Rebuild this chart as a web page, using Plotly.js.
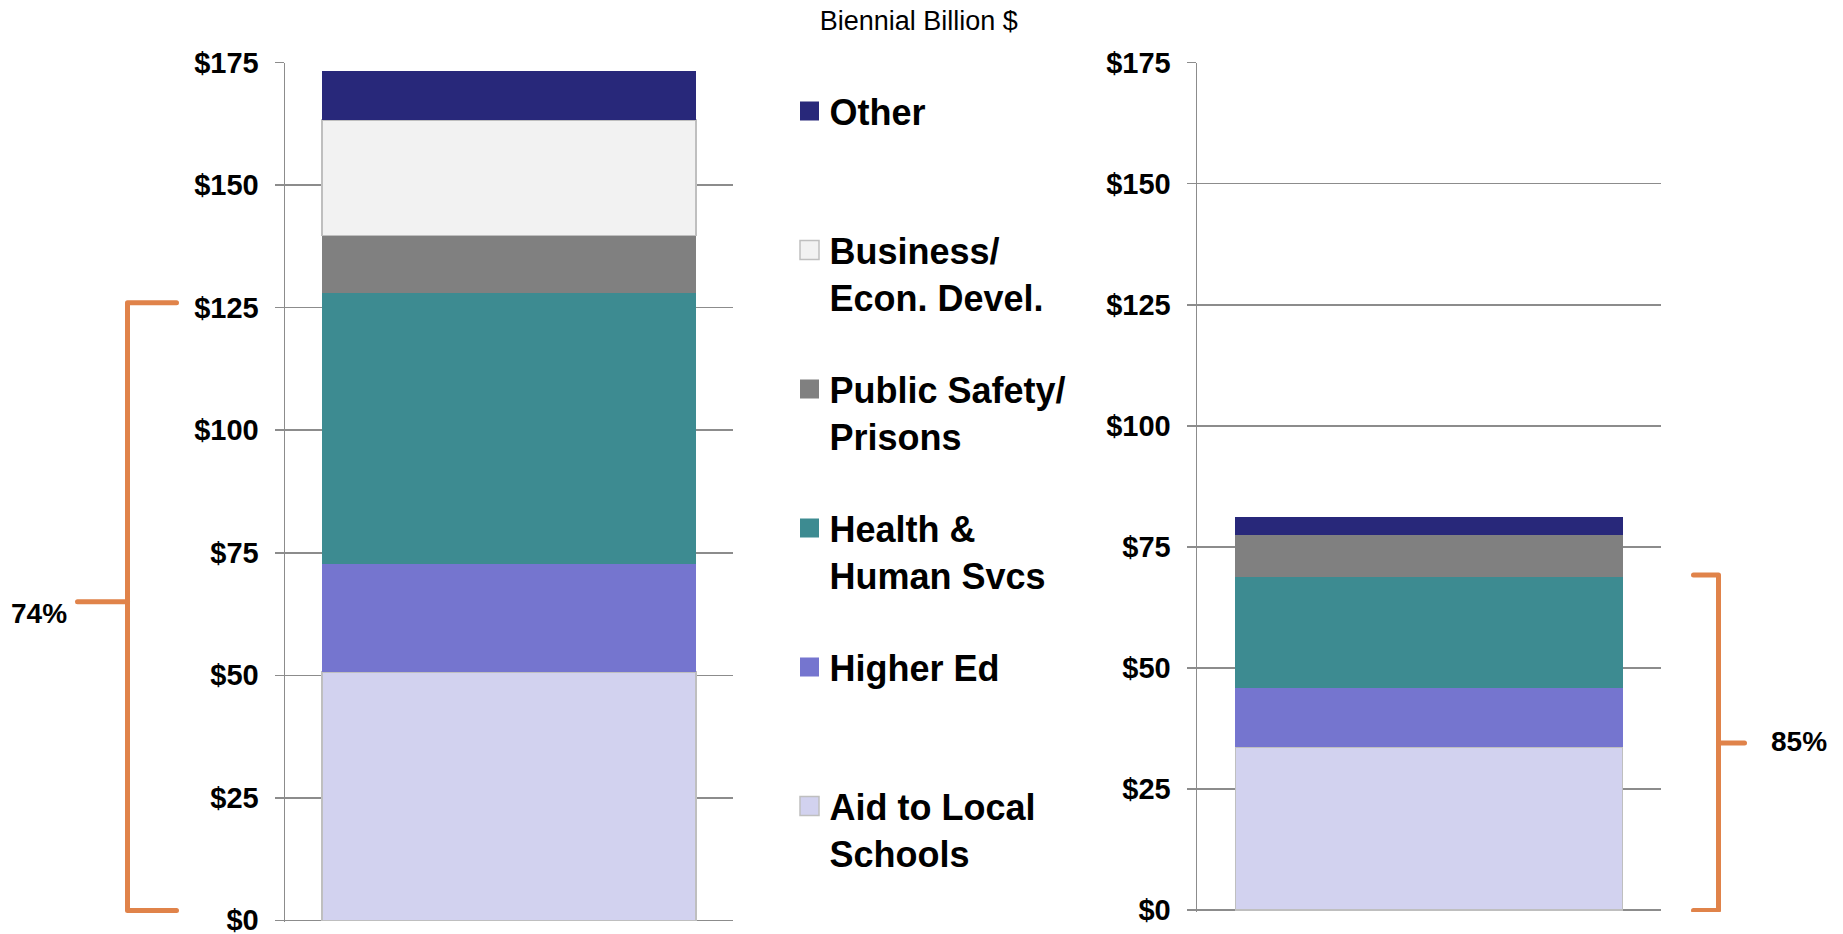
<!DOCTYPE html>
<html>
<head>
<meta charset="utf-8">
<script src="https://cdn.plot.ly/plotly-3.0.1.min.js"></script>
<style>
  html, body { margin: 0; padding: 0; background: #ffffff; }
  #chart { width: 1843px; height: 934px; }
</style>
</head>
<body>
<div id="chart"></div>
<script>
// ---------------- data ----------------
const categories = ['Aid to Local Schools', 'Higher Ed', 'Health & Human Svcs', 'Public Safety/ Prisons', 'Business/ Econ. Devel.', 'Other'];
const legendLabels = ['Aid to Local<br>Schools', 'Higher Ed<br> ', 'Health &amp;<br>Human Svcs', 'Public Safety/<br>Prisons', 'Business/<br>Econ. Devel.', 'Other<br> '];
const leftValues  = [50.7, 22.1, 55.3, 11.6, 23.6, 10.0];   // biennial billion $, left bar
const rightValues = [33.7, 12.1, 23.0,  8.6,  0.0,  3.8];   // biennial billion $, right bar
const leftCategory  = ['All Funds'];
const rightCategory = ['General Fund'];
const tickValues = [0, 25, 50, 75, 100, 125, 150, 175];
const tickLabels = ['$0', '$25', '$50', '$75', '$100', '$125', '$150', '$175'];
const shareLabels = ['74%', '85%'];

// ---------------- styles ----------------
const colors = ['#D2D2EF', '#7575CF', '#3D8B91', '#808080', '#F2F2F2', '#28287A'];
const borderWidths = [1.5, 0, 0, 0, 1.5, 0];
const borderColor = '#BFBFBF';
const gridColor = '#8C8C8C';
const bracketColor = '#E0834A';
const FONT = '"Liberation Sans", Arial, Helvetica, sans-serif';

const W = 1843, H = 934;
const px = x => x / W;
const py = y => 1 - y / H;

const traces = [];
categories.forEach((c, i) => {
  const rank = categories.length - i;
  traces.push({
    type: 'bar', name: legendLabels[i], legendgroup: c, legendrank: rank,
    x: leftCategory, y: [leftValues[i]], xaxis: 'x', yaxis: 'y',
    marker: { color: colors[i], line: { color: borderColor, width: borderWidths[i] } },
    showlegend: true, hoverinfo: 'skip'
  });
  traces.push({
    type: 'bar', name: legendLabels[i], legendgroup: c, legendrank: rank,
    x: rightCategory, y: [rightValues[i]], xaxis: 'x2', yaxis: 'y2',
    marker: { color: colors[i], line: { color: borderColor, width: rightValues[i] > 0 ? borderWidths[i] : 0 } },
    showlegend: false, hoverinfo: 'skip'
  });
});

const Y_MIN = -0.4, Y_MAX = 175;
const yAxisBase = {
  range: [Y_MIN, Y_MAX], tickvals: tickValues, ticktext: tickLabels,
  showgrid: true, gridcolor: gridColor, gridwidth: 1.5,
  showline: true, linecolor: gridColor, linewidth: 1.5,
  ticks: 'outside', ticklen: 9, tickwidth: 1.5, tickcolor: gridColor,
  ticklabelstandoff: 10, ticklabeloverflow: 'allow',
  zeroline: false, automargin: false, fixedrange: true,
  tickfont: { family: FONT, size: 29, weight: 700, color: '#000000' }
};
const xAxisBase = {
  range: [-0.5, 0.5], showticklabels: false, showgrid: false, zeroline: false,
  showline: false, ticks: '', automargin: false, fixedrange: true, type: 'category'
};

// pixel rows of $0 and $175 for each panel
const leftZero = 920.3, rightZero = 910, topRow = 62.7;
const domainFor = zero => {
  const ppu = (zero - topRow) / Y_MAX;
  return [py(zero - Y_MIN * ppu), py(topRow)];
};

// bracket geometry (annotation decorations)
const leftBracket  = { xv: 127.5, xend: 176.5, xmid: 77.5, top: 126, bottom: 2, mid: 65 };
const rightBracket = { xv: 1718.5, xend: 1693.5, xmid: 1744.5, top: 69.2, bottom: -0.1, mid: 34.5 };

function bracketShapes(b, yref) {
  const line = { color: bracketColor, width: 5 };
  return [
    { type: 'path', xref: 'paper', yref: yref, line: line,
      path: `M ${px(b.xend)},${b.top} L ${px(b.xv)},${b.top} L ${px(b.xv)},${b.bottom} L ${px(b.xend)},${b.bottom}` },
    { type: 'path', xref: 'paper', yref: yref, line: line,
      path: `M ${px(b.xv)},${b.mid} L ${px(b.xmid)},${b.mid}` }
  ];
}

const layout = {
  width: W, height: H,
  margin: { l: 0, r: 0, t: 0, b: 0 },
  paper_bgcolor: '#ffffff', plot_bgcolor: 'rgba(0,0,0,0)',
  barmode: 'stack', bargap: 0.165,
  hovermode: false,
  font: { family: FONT, color: '#000000' },
  title: {
    text: 'Biennial Billion $',
    x: px(918.7), xanchor: 'center', xref: 'paper',
    y: py(21), yanchor: 'middle', yref: 'container',
    font: { family: FONT, size: 27, color: '#000000' }
  },
  xaxis:  Object.assign({}, xAxisBase, { domain: [px(285), px(733)], anchor: 'y' }),
  yaxis:  Object.assign({}, yAxisBase, { domain: domainFor(leftZero), anchor: 'x' }),
  xaxis2: Object.assign({}, xAxisBase, { domain: [px(1197), px(1661)], anchor: 'y2' }),
  yaxis2: Object.assign({}, yAxisBase, { domain: domainFor(rightZero), anchor: 'x2' }),
  showlegend: true,
  legend: {
    x: px(789.5), xanchor: 'left', xref: 'paper',
    y: py(81), yanchor: 'top', yref: 'paper',
    traceorder: 'grouped', tracegroupgap: 42.4,
    valign: 'top', bgcolor: 'rgba(0,0,0,0)', borderwidth: 0,
    font: { family: FONT, size: 36, weight: 700, color: '#000000' },
    itemclick: false, itemdoubleclick: false
  },
  shapes: [].concat(bracketShapes(leftBracket, 'y'), bracketShapes(rightBracket, 'y2')),
  annotations: [
    { text: shareLabels[0], xref: 'paper', yref: 'y', x: px(38.7), y: 62.7,
      xanchor: 'center', yanchor: 'middle', showarrow: false,
      font: { family: FONT, size: 28, weight: 700, color: '#000000' } },
    { text: shareLabels[1], xref: 'paper', yref: 'y2', x: px(1799), y: 34.8,
      xanchor: 'center', yanchor: 'middle', showarrow: false,
      font: { family: FONT, size: 28, weight: 700, color: '#000000' } }
  ]
};

Plotly.newPlot('chart', traces, layout, { displayModeBar: false, staticPlot: true, responsive: false })
  .then(gd => {
    gd.querySelectorAll('.shapelayer path').forEach(p => {
      p.style.strokeLinecap = 'round';
      p.style.strokeLinejoin = 'round';
    });
    // enlarge legend swatches to match the original 19px squares
    gd.querySelectorAll('.legend .legendpoints path').forEach(p => {
      p.setAttribute('d', 'M9.5,9.5H-9.5V-9.5H9.5Z');
    });
  });
</script>
</body>
</html>
